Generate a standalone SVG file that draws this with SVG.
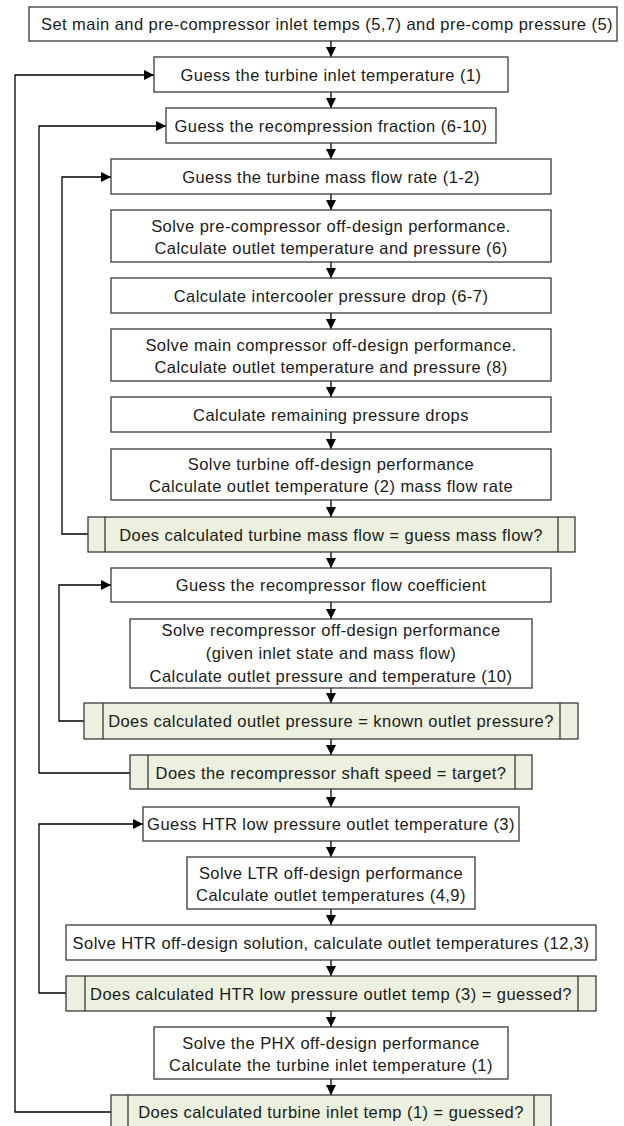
<svg xmlns="http://www.w3.org/2000/svg" width="624" height="1126" viewBox="0 0 624 1126">
<defs>
<marker id="ah" viewBox="0 0 10 10" refX="10" refY="5" markerWidth="10" markerHeight="10" markerUnits="userSpaceOnUse" orient="auto">
<path d="M0,0 L10,5 L0,10 Z" fill="#000"/>
</marker>
<style>
.b{fill:#fff;stroke:#3a3a3a;stroke-width:1.3}
.d{fill:#ebf1de;stroke:#3a3a3a;stroke-width:1.3}
.l{stroke:#3a3a3a;stroke-width:1.3;fill:none}
.c{stroke:#000;stroke-width:1.3;fill:none;marker-end:url(#ah)}
text{font-family:"Liberation Sans",Arial,sans-serif;font-size:16.5px;letter-spacing:0.45px;fill:#1a1a1a;text-anchor:middle}
</style>
</defs>
<rect width="624" height="1126" fill="#fff"/>
<g id="connectors">
<line class="c" x1="331" y1="41" x2="331" y2="57"/>
<line class="c" x1="331" y1="92" x2="331" y2="108"/>
<line class="c" x1="331" y1="143" x2="331" y2="159"/>
<line class="c" x1="331" y1="194" x2="331" y2="210"/>
<line class="c" x1="331" y1="262" x2="331" y2="278"/>
<line class="c" x1="331" y1="313" x2="331" y2="329"/>
<line class="c" x1="331" y1="381" x2="331" y2="397"/>
<line class="c" x1="331" y1="432" x2="331" y2="449"/>
<line class="c" x1="331" y1="500" x2="331" y2="517"/>
<line class="c" x1="331" y1="552" x2="331" y2="568"/>
<line class="c" x1="331" y1="602" x2="331" y2="619"/>
<line class="c" x1="331" y1="688" x2="331" y2="703"/>
<line class="c" x1="331" y1="739" x2="331" y2="755"/>
<line class="c" x1="331" y1="789" x2="331" y2="807"/>
<line class="c" x1="331" y1="841" x2="331" y2="857"/>
<line class="c" x1="331" y1="909" x2="331" y2="925"/>
<line class="c" x1="331" y1="960" x2="331" y2="976"/>
<line class="c" x1="331" y1="1011" x2="331" y2="1027"/>
<line class="c" x1="331" y1="1079" x2="331" y2="1095"/>
<polyline class="c" points="111,1112 15,1112 15,75 154,75"/>
<polyline class="c" points="130,773 39,773 39,126 166,126"/>
<polyline class="c" points="88,534 62,534 62,177 111,177"/>
<polyline class="c" points="84,721 59,721 59,585 111,585"/>
<polyline class="c" points="66,993 39,993 39,824 143,824"/>
</g>
<g id="n1"><rect class="b" x="29" y="7" width="588" height="34"/><text x="327" y="30">Set main and pre-compressor inlet temps (5,7) and pre-comp pressure (5)</text></g>
<g id="n2"><rect class="b" x="154" y="57" width="354" height="35"/><text x="331" y="81">Guess the turbine inlet temperature (1)</text></g>
<g id="n3"><rect class="b" x="166" y="108" width="330" height="35"/><text x="331" y="132">Guess the recompression fraction (6-10)</text></g>
<g id="n4"><rect class="b" x="111" y="159" width="440" height="35"/><text x="331" y="183">Guess the turbine mass flow rate (1-2)</text></g>
<g id="n5"><rect class="b" x="111" y="210" width="440" height="52"/><text x="331" y="231.5">Solve pre-compressor off-design performance.</text><text x="331" y="254">Calculate outlet temperature and pressure (6)</text></g>
<g id="n6"><rect class="b" x="111" y="278" width="440" height="35"/><text x="331" y="302">Calculate intercooler pressure drop (6-7)</text></g>
<g id="n7"><rect class="b" x="111" y="329" width="440" height="52"/><text x="331" y="350.5">Solve main compressor off-design performance.</text><text x="331" y="373">Calculate outlet temperature and pressure (8)</text></g>
<g id="n8"><rect class="b" x="111" y="397" width="440" height="35"/><text x="331" y="421">Calculate remaining pressure drops</text></g>
<g id="n9"><rect class="b" x="111" y="449" width="440" height="51"/><text x="331" y="469.5">Solve turbine off-design performance</text><text x="331" y="492">Calculate outlet temperature (2) mass flow rate</text></g>
<g id="d1"><rect class="d" x="88" y="517" width="487" height="35"/><line class="l" x1="105" y1="517" x2="105" y2="552"/><line class="l" x1="558" y1="517" x2="558" y2="552"/><text x="331" y="541">Does calculated turbine mass flow = guess mass flow?</text></g>
<g id="n10"><rect class="b" x="111" y="568" width="440" height="34"/><text x="331" y="591">Guess the recompressor flow coefficient</text></g>
<g id="n11"><rect class="b" x="130" y="619" width="402" height="69"/><text x="331" y="635.5">Solve recompressor off-design performance</text><text x="331" y="658.5">(given inlet state and mass flow)</text><text x="331" y="682">Calculate outlet pressure and temperature (10)</text></g>
<g id="d2"><rect class="d" x="84" y="703" width="494" height="36"/><line class="l" x1="103" y1="703" x2="103" y2="739"/><line class="l" x1="560" y1="703" x2="560" y2="739"/><text x="331" y="727">Does calculated outlet pressure = known outlet pressure?</text></g>
<g id="d3"><rect class="d" x="130" y="755" width="402" height="34"/><line class="l" x1="148" y1="755" x2="148" y2="789"/><line class="l" x1="515" y1="755" x2="515" y2="789"/><text x="331" y="779">Does the recompressor shaft speed = target?</text></g>
<g id="n12"><rect class="b" x="143" y="807" width="376" height="34"/><text x="331" y="830">Guess HTR low pressure outlet temperature (3)</text></g>
<g id="n13"><rect class="b" x="187" y="857" width="288" height="52"/><text x="331" y="878.5">Solve LTR off-design performance</text><text x="331" y="901">Calculate outlet temperatures (4,9)</text></g>
<g id="n14"><rect class="b" x="66" y="925" width="530" height="35"/><text x="331" y="949">Solve HTR off-design solution, calculate outlet temperatures (12,3)</text></g>
<g id="d4"><rect class="d" x="66" y="976" width="530" height="35"/><line class="l" x1="85" y1="976" x2="85" y2="1011"/><line class="l" x1="578" y1="976" x2="578" y2="1011"/><text x="331" y="1000">Does calculated HTR low pressure outlet temp (3) = guessed?</text></g>
<g id="n15"><rect class="b" x="154" y="1027" width="354" height="52"/><text x="331" y="1048.5">Solve the PHX off-design performance</text><text x="331" y="1071">Calculate the turbine inlet temperature (1)</text></g>
<g id="d5"><rect class="d" x="111" y="1095" width="440" height="36"/><line class="l" x1="128" y1="1095" x2="128" y2="1131"/><line class="l" x1="534" y1="1095" x2="534" y2="1131"/><text x="331" y="1118">Does calculated turbine inlet temp (1) = guessed?</text></g>
</svg>
